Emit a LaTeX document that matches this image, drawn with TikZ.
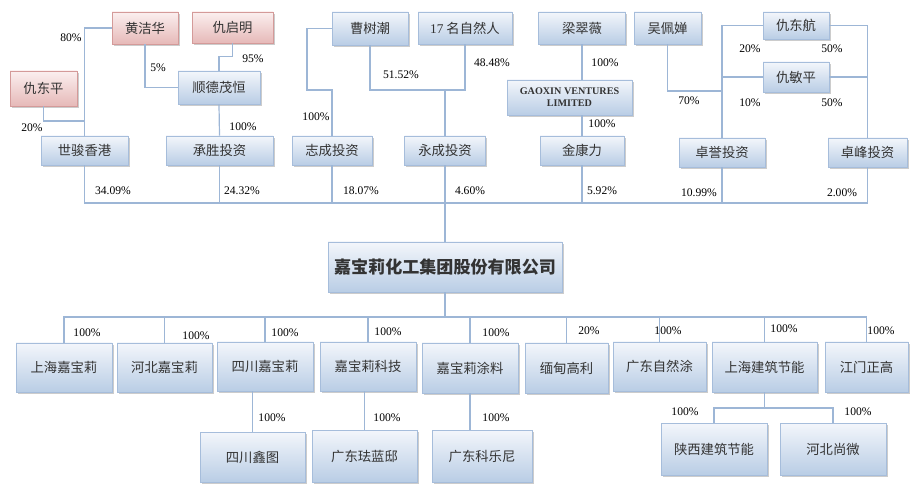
\documentclass[tikz,border=0pt]{standalone}
\usepackage{fontspec}
\setmainfont{Liberation Serif}
\newfontfamily\cjk{Noto Sans CJK SC}
\usetikzlibrary{shadows}
\definecolor{wirec}{HTML}{9DB6D6}
\definecolor{bluetop}{HTML}{F3F6FB}
\definecolor{bluebot}{HTML}{B9CDE5}
\definecolor{blueline}{HTML}{A6BDDB}
\definecolor{redtop}{HTML}{FBEFEF}
\definecolor{redbot}{HTML}{E6B9B8}
\definecolor{redline}{HTML}{D49A99}
\begin{document}
\begin{tikzpicture}[x=0.75pt,y=-0.75pt,
	box/.style={draw=blueline,line width=0.6pt,top color=bluetop,bottom color=bluebot,
		drop shadow={shadow xshift=1.4pt,shadow yshift=-1.4pt,fill=black!40},
		inner sep=0pt,text=black!80,font=\cjk\fontsize{10}{12}\selectfont},
	redbox/.style={box,draw=redline,top color=redtop,bottom color=redbot},
	wh/.style 2 args={minimum width=#1*0.75pt,minimum height=#2*0.75pt},
	wire/.style={draw=wirec,line width=0.9pt},
	pct/.style={font=\fontsize{8.7}{10}\selectfont,inner sep=0pt}]
\useasboundingbox (0,0) rectangle (918,502);
% shareholders
\node[redbox,wh={66}{32}] (hjh) at (145,28) {黄洁华};
\node[redbox,wh={81}{31}] (hqm) at (232.5,27.5) {仇启明};
\node[redbox,wh={67}{35}] (hdp) at (43.5,88.5) {仇东平};
\node[box,wh={82}{33}] (sdmh) at (219,87.5) {顺德茂恒};
\node[box,wh={87}{29}] (sjxg) at (84.5,150.5) {世骏香港};
\node[box,wh={107}{29}] (cstz) at (219.5,150.5) {承胜投资};
\node[box,wh={76}{33}] (csc) at (370,28.5) {曹树潮};
\node[box,wh={94}{32}] (zrr) at (465,28) {{\rmfamily 17} 名自然人};
\node[box,wh={87}{32}] (lcw) at (582,28) {梁翠薇};
\node[box,wh={125}{35},align=center,font=\rmfamily\bfseries\fontsize{7.6}{9}\selectfont]
	(gx) at (569.5,97.5) {GAOXIN VENTURES\\LIMITED};
\node[box,wh={80}{29}] (zhcz) at (332,150.5) {志成投资};
\node[box,wh={81}{29}] (ycz) at (445,150.5) {永成投资};
\node[box,wh={84}{29}] (jkl) at (582,150.5) {金康力};
\node[box,wh={67}{32}] (wpc) at (667.5,28) {吴佩婵};
\node[box,wh={66}{27}] (qdh) at (796,25.5) {仇东航};
\node[box,wh={66}{30}] (qmp) at (796,77) {仇敏平};
\node[box,wh={86}{29}] (zytz) at (722,152.5) {卓誉投资};
\node[box,wh={79}{29}] (zftz) at (867.5,152.5) {卓峰投资};
% group
\node[box,wh={234}{50},font=\cjk\bfseries\fontsize{12.8}{15}\selectfont] (jbl) at (445,267) {嘉宝莉化工集团股份有限公司};
% subsidiaries
\node[box,wh={96}{49}] (shjbl) at (64,367.5) {上海嘉宝莉};
\node[box,wh={95}{49}] (hbjbl) at (164.5,367.5) {河北嘉宝莉};
\node[box,wh={96}{49}] (scjbl) at (265,366.5) {四川嘉宝莉};
\node[box,wh={96}{49}] (jblkj) at (368,366.5) {嘉宝莉科技};
\node[box,wh={96}{50}] (jbltl) at (470,368) {嘉宝莉涂料};
\node[box,wh={83}{50}] (mdgl) at (566.5,368) {缅甸高利};
\node[box,wh={93}{49}] (gdzrt) at (659.5,366.5) {广东自然涂};
\node[box,wh={105}{50}] (shjz) at (764.5,367) {上海建筑节能};
\node[box,wh={83}{50}] (jmzg) at (866.5,367) {江门正高};
\node[box,wh={105}{50}] (scxt) at (252.5,457) {四川鑫图};
\node[box,wh={105}{52}] (gdfld) at (364.5,456) {广东珐蓝邸};
\node[box,wh={100}{52}] (gdkln) at (482,456) {广东科乐尼};
\node[box,wh={106}{52}] (sxjz) at (714,449) {陕西建筑节能};
\node[box,wh={106}{52}] (hbsw) at (833,449) {河北尚微};
% connectors
\coordinate (d1) at (84.5,121);
\coordinate (c1) at (307,90);
\coordinate (c2) at (445,90);
\coordinate (w1) at (722,91);
\coordinate (bus) at (445,203);
\coordinate (bus2) at (445,317);
\coordinate (s1) at (764.5,408);
\draw[wire] (hjh.west) -| (sjxg.north);
\draw[wire] (hdp.south) |- (d1);
\draw[wire] (hjh.south) |- (sdmh.west);
\draw[wire] (hqm.south) -- ++(0,13) -| (sdmh.north);
\draw[wire] (sdmh.south) -- (cstz.north);
\draw[wire] (csc.west) -| (c1) -| (zhcz.north);
\draw[wire] (csc.south) |- (c2) -| (zrr.south);
\draw[wire] (c2) -- (ycz.north);
\draw[wire] (lcw.south) -- (lcw.south |- gx.north);
\draw[wire] (lcw.south |- gx.south) -- (jkl.north);
\draw[wire] (wpc.south) |- (w1);
\draw[wire] (qdh.west) -| (zytz.north);
\draw[wire] (qmp.west) -| (zytz.north);
\draw[wire] (qdh.east) -| (zftz.north);
\draw[wire] (qmp.east) -| (zftz.north);
\foreach \n in {sjxg,cstz,zhcz,ycz,jkl,zytz,zftz}
	\draw[wire] (\n.south) |- (bus);
\draw[wire] (bus) -- (jbl.north);
\draw[wire] (jbl.south) -- (bus2);
\foreach \n in {shjbl,hbjbl,scjbl,jblkj,jbltl,mdgl,gdzrt,shjz,jmzg}
	\draw[wire] (bus2) -| (\n.north);
\draw[wire] (scxt.north) -- (scxt.north |- scjbl.south);
\draw[wire] (gdfld.north) -- (gdfld.north |- jblkj.south);
\draw[wire] (jbltl.south) -- (jbltl.south |- gdkln.north);
\draw[wire] (shjz.south) -- (s1);
\draw[wire] (sxjz.north) |- (s1) -| (hbsw.north);
% shares
\node[pct] at (71,38) {80\%};
\node[pct] at (32,128) {20\%};
\node[pct] at (158,68) {5\%};
\node[pct] at (253,59) {95\%};
\node[pct] at (243,127) {100\%};
\node[pct] at (113,191) {34.09\%};
\node[pct] at (242,191) {24.32\%};
\node[pct] at (316,117) {100\%};
\node[pct] at (401,75) {51.52\%};
\node[pct] at (492,63) {48.48\%};
\node[pct] at (605,63) {100\%};
\node[pct] at (602,124) {100\%};
\node[pct] at (361,191) {18.07\%};
\node[pct] at (470,191) {4.60\%};
\node[pct] at (602,191) {5.92\%};
\node[pct] at (750,49) {20\%};
\node[pct] at (832,49) {50\%};
\node[pct] at (689,101) {70\%};
\node[pct] at (750,103) {10\%};
\node[pct] at (832,103) {50\%};
\node[pct] at (699,193) {10.99\%};
\node[pct] at (842,193) {2.00\%};
\node[pct] at (87,333) {100\%};
\node[pct] at (196,336) {100\%};
\node[pct] at (285,333) {100\%};
\node[pct] at (388,332) {100\%};
\node[pct] at (496,333) {100\%};
\node[pct] at (589,331) {20\%};
\node[pct] at (668,331) {100\%};
\node[pct] at (784,329) {100\%};
\node[pct] at (881,331) {100\%};
\node[pct] at (272,418) {100\%};
\node[pct] at (387,418) {100\%};
\node[pct] at (496,418) {100\%};
\node[pct] at (685,412) {100\%};
\node[pct] at (858,412) {100\%};
\end{tikzpicture}
\end{document}
